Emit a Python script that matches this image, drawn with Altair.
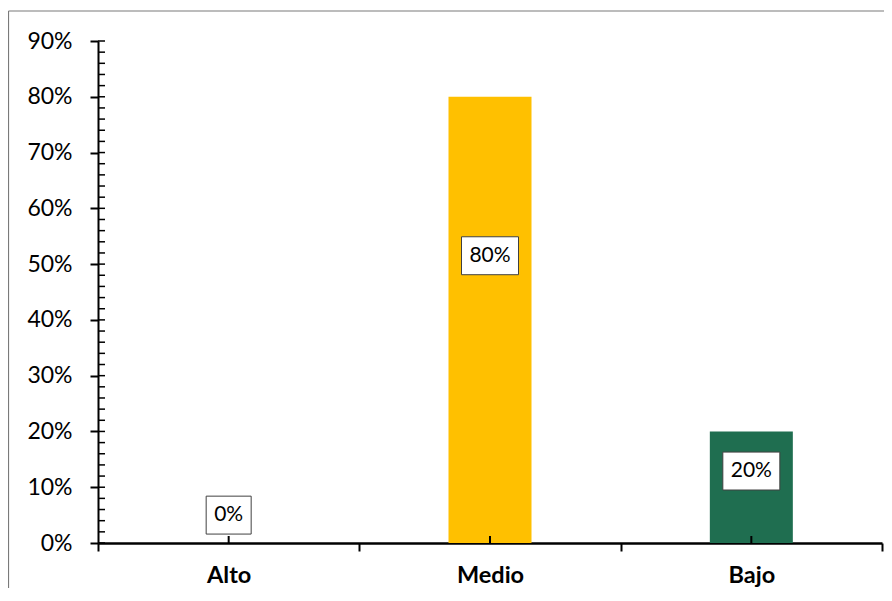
import altair as alt
import pandas as pd

# ---- data ----
categories = ["Alto", "Medio", "Bajo"]
values = [0, 80, 20]
bar_colors = ["#FFC000", "#FFC000", "#1F6E50"]
label_text = ["0%", "80%", "20%"]
label_at = [5.0, 51.5, 12.9]          # where each value box sits (in % units)
y_ticks = [0, 10, 20, 30, 40, 50, 60, 70, 80, 90]
minor_ticks = list(range(0, 91, 2))

W, H = 784, 502
FONT = "Lato"

df = pd.DataFrame({"cat": categories, "value": values, "color": bar_colors,
                   "label": label_text, "label_at": label_at})
minor_df = pd.DataFrame({"t": minor_ticks})

yscale = alt.Scale(domain=[0, 90], nice=False, zero=True)
xscale = alt.Scale(domain=categories, paddingInner=0, paddingOuter=0)

x_axis = alt.Axis(title=None, labelAngle=0, tickBand="extent", tickSize=8, tickWidth=2,
                  tickColor="black", domainColor="black", domainWidth=2.5, grid=False,
                  labelFont=FONT, labelFontSize=23.5, labelFontWeight="bold",
                  labelColor="black", labelPadding=12)
y_axis = alt.Axis(title=None, values=y_ticks, labelExpr="datum.value + '%'",
                  tickSize=8, tickWidth=2, tickColor="black", domainColor="black",
                  domainWidth=2, labelFont=FONT, labelFontSize=23, labelColor="black",
                  labelPadding=18, grid=False)

X = alt.X("cat:N", sort=categories, scale=xscale, axis=x_axis)

bars = alt.Chart(df).mark_bar(size=83).encode(
    x=X,
    y=alt.Y("value:Q", scale=yscale, axis=y_axis),
    color=alt.Color("color:N", scale=None),
)

minor = alt.Chart(minor_df).mark_rule(color="black", strokeWidth=1.5).encode(
    y=alt.Y("t:Q", scale=yscale, axis=y_axis),
    x=alt.value(0), x2=alt.value(7),
)

center_ticks = alt.Chart(df).mark_rule(color="black", strokeWidth=2).encode(
    x=X, y=alt.value(H - 7), y2=alt.value(H),
)

boxes = alt.Chart(df).transform_calculate(
    boxw="21 + 12 * length(datum.label)",
    lo="datum.label_at - 3.4",
    hi="datum.label_at + 3.4",
).mark_bar(fill="white", stroke="#404040", strokeWidth=1).encode(
    x=X,
    y=alt.Y("lo:Q", scale=yscale, axis=y_axis),
    y2="hi:Q",
    size=alt.Size("boxw:Q", scale=None, legend=None),
)

labels = alt.Chart(df).mark_text(font=FONT, fontSize=21, color="black",
                                 baseline="middle", align="center").encode(
    x=X,
    y=alt.Y("label_at:Q", scale=yscale, axis=y_axis),
    text="label:N",
)

frame_df = pd.DataFrame({"a": [0]})
frame_top = alt.Chart(frame_df).mark_rule(color="#7a7a7a", strokeWidth=1.2).encode(
    x=alt.value(-89.5), x2=alt.value(W + 10), y=alt.value(-30),
)
frame_left = alt.Chart(frame_df).mark_rule(color="#7a7a7a", strokeWidth=1.2).encode(
    x=alt.value(-89.5), y=alt.value(-30), y2=alt.value(H + 60),
)

chart = alt.layer(frame_top, frame_left, bars, minor, center_ticks, boxes, labels).properties(
    width=W, height=H,
    padding={"left": 90, "top": 33, "right": 2, "bottom": 45},
    autosize=alt.AutoSizeParams(type="none"),
    view=alt.ViewBackground(stroke=None, strokeWidth=0),
).configure_view(stroke=None, strokeWidth=0).configure_axis(grid=False).configure(background="white")

chart.save("out.html", embed_options={"renderer": "svg", "actions": False})
